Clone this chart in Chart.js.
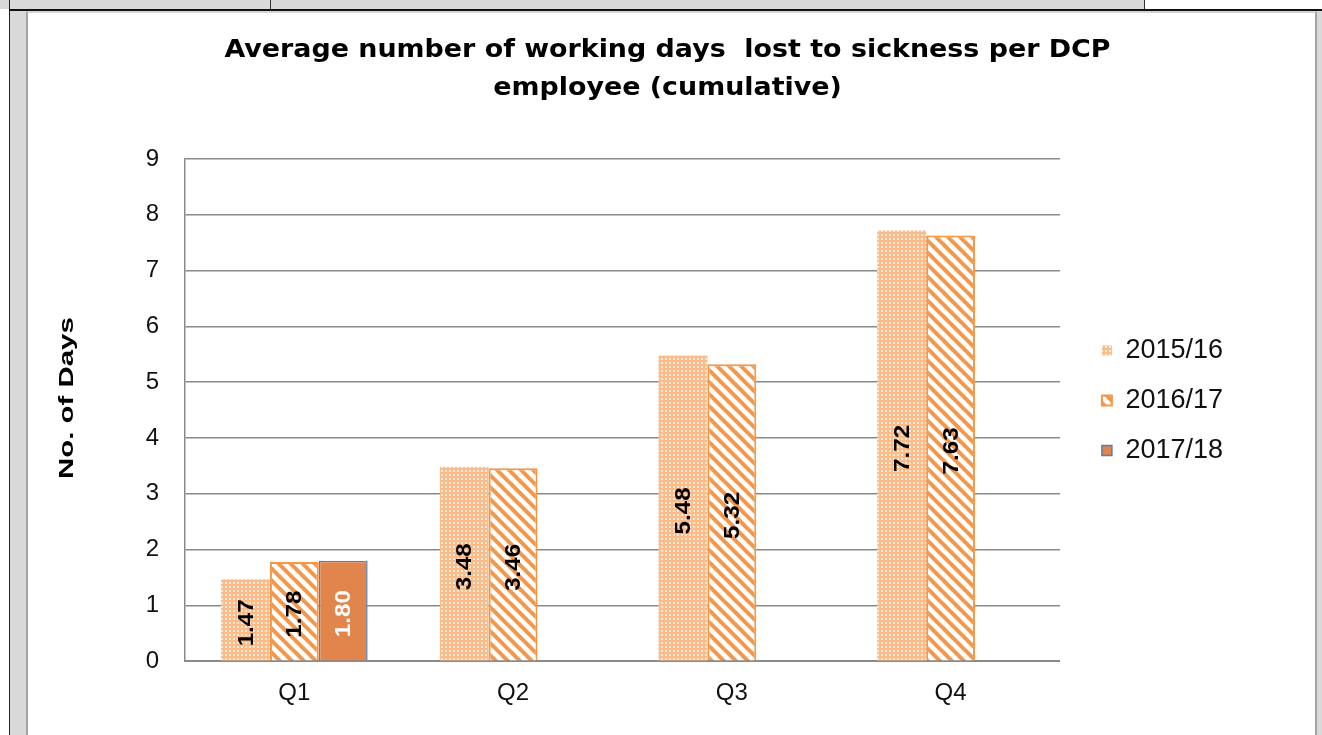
<!DOCTYPE html>
<html>
<head>
<meta charset="utf-8">
<script src="https://cdn.jsdelivr.net/npm/chart.js@4.4.0/dist/chart.umd.min.js"></script>
<style>
  html, body { margin: 0; padding: 0; background: #fff; }
  body { width: 1322px; height: 735px; position: relative; overflow: hidden; }
  .strip { position: absolute; left: 0; top: 0; width: 1144px; height: 9px; background: #d9d9d9; border-right: 1px solid #333; }
  .strip-div { position: absolute; left: 270px; top: 0; width: 1px; height: 9px; background: #333; }
  .rule-top { position: absolute; left: 9px; top: 9px; width: 1313px; height: 2px; background: #111; }
  .rule-left { position: absolute; left: 9px; top: 0; width: 1px; height: 735px; background: #222; }
  .side-left { position: absolute; left: 10px; top: 11px; width: 16px; height: 724px; background: #d9d9d9; }
  .side-right { position: absolute; left: 1317px; top: 11px; width: 5px; height: 724px; background: #d9d9d9; }
  .panel { position: absolute; left: 26px; top: 11px; width: 1287px; height: 724px;
           border-left: 2px solid #a3a3a3; border-right: 2px solid #a3a3a3; border-top: 2px solid #d4d4d4; background: #fff; }
  .chart-box { position: absolute; left: 28px; top: 13px; width: 1287px; height: 722px; }
</style>
</head>
<body>
<div class="strip"></div>
<div class="strip-div"></div>
<div class="rule-left"></div>
<div class="side-left"></div>
<div class="side-right"></div>
<div class="panel"></div>
<div class="rule-top"></div>
<div class="chart-box"><canvas id="sickChart"></canvas></div>

<script>
const quarters = ['Q1', 'Q2', 'Q3', 'Q4'];
const years = ['2015/16', '2016/17', '2017/18'];
const days1516 = [1.47, 3.48, 5.48, 7.72];
const days1617 = [1.78, 3.46, 5.32, 7.63];
const days1718 = [1.80, null, null, null];
const yTicks = [0, 1, 2, 3, 4, 5, 6, 7, 8, 9];

const titleLines = ['Average number of working days  lost to sickness per DCP', 'employee (cumulative)'];
const yTitle = 'No. of Days';

const ORANGE = '#f79646';

// light orange with a grid of pale dots
function dotPattern() {
  const c = document.createElement('canvas');
  c.width = 4; c.height = 4;
  const g = c.getContext('2d');
  g.fillStyle = '#fabd89';
  g.fillRect(0, 0, 4, 4);
  g.fillStyle = '#fde6d2';
  g.fillRect(1, 1, 2, 2);
  return g.createPattern(c, 'repeat');
}

// white with orange "\" stripes
function stripePattern() {
  const s = 12;
  const c = document.createElement('canvas');
  c.width = s; c.height = s;
  const g = c.getContext('2d');
  g.fillStyle = '#fff';
  g.fillRect(0, 0, s, s);
  g.strokeStyle = ORANGE;
  g.lineWidth = 4;
  for (const k of [-s, 0, s]) {
    g.beginPath();
    g.moveTo(k - 1, -1);
    g.lineTo(k + s + 1, s + 1);
    g.stroke();
  }
  return g.createPattern(c, 'repeat');
}

// two-line heading, a touch wider than the font's natural set
const titlePlugin = {
  id: 'wideTitle',
  afterDraw(chart) {
    const ctx = chart.ctx;
    ctx.save();
    ctx.font = 'bold 24px "DejaVu Sans"';
    ctx.fillStyle = '#000';
    ctx.textAlign = 'center';
    ctx.textBaseline = 'alphabetic';
    const cx = chart.width / 2 - 4;
    titleLines.forEach((line, i) => {
      ctx.save();
      ctx.translate(cx, 44 + i * 38);
      ctx.scale(1.12, 1);
      ctx.fillText(line, 0, 0);
      ctx.restore();
    });
    ctx.restore();
  }
};

// rotated y axis title
const yTitlePlugin = {
  id: 'yTitle',
  afterDraw(chart) {
    const { ctx, chartArea } = chart;
    ctx.save();
    ctx.translate(chartArea.left - 118, (chartArea.top + chartArea.bottom) / 2 - 12);
    ctx.rotate(-Math.PI / 2);
    ctx.scale(1.4, 1);
    ctx.font = 'bold 21px "Liberation Sans"';
    ctx.fillStyle = '#000';
    ctx.textAlign = 'center';
    ctx.textBaseline = 'middle';
    ctx.fillText(yTitle, 0, 0);
    ctx.restore();
  }
};

// values written upright inside each bar
const barLabels = {
  id: 'barLabels',
  afterDatasetsDraw(chart) {
    const ctx = chart.ctx;
    chart.data.datasets.forEach((ds, i) => {
      const meta = chart.getDatasetMeta(i);
      meta.data.forEach((bar, j) => {
        const v = ds.data[j];
        if (v == null) return;
        ctx.save();
        ctx.translate(bar.x, (bar.y + bar.base) / 2 + 3);
        ctx.rotate(-Math.PI / 2);
        ctx.scale(1.1, 1);
        ctx.font = 'bold 22px "Liberation Sans"';
        ctx.fillStyle = i === 2 ? '#fff' : '#000';
        ctx.textAlign = 'center';
        ctx.textBaseline = 'middle';
        ctx.fillText(v.toFixed(2), 0, 1);
        ctx.restore();
      });
    });
  }
};

// push the legend a little away from the plot and lift it
const legendNudge = {
  id: 'legendNudge',
  afterLayout(chart) {
    const lg = chart.legend;
    const dx = chart.chartArea.right + 19 - lg.left;
    lg.left += dx; lg.right += dx;
    lg.top -= 42; lg.bottom -= 42;
  }
};

const tickFont = { family: '"Liberation Sans"', size: 24 };

new Chart(document.getElementById('sickChart'), {
  type: 'bar',
  data: {
    labels: quarters,
    datasets: [
      { label: years[0], data: days1516, backgroundColor: dotPattern(), borderWidth: 0 },
      { label: years[1], data: days1617, backgroundColor: stripePattern(), borderColor: ORANGE, borderWidth: 2 },
      { label: years[2], data: days1718, backgroundColor: '#e2854d', borderColor: '#4f81bd', borderWidth: 1.5 }
    ]
  },
  plugins: [titlePlugin, yTitlePlugin, barLabels, legendNudge],
  options: {
    responsive: true,
    maintainAspectRatio: false,
    animation: false,
    datasets: { bar: { categoryPercentage: 0.67, barPercentage: 1.0 } },
    layout: { padding: { left: 117, right: 101, top: 146, bottom: 9 } },
    plugins: {
      title: { display: false },
      tooltip: { enabled: false },
      legend: {
        position: 'right',
        labels: { font: { family: '"Liberation Sans"', size: 27 }, color: '#111', boxWidth: 10, boxHeight: 10, padding: 23 }
      }
    },
    scales: {
      x: {
        grid: { display: false, drawTicks: false },
        border: { color: '#8a8a8a', width: 2 },
        ticks: { font: tickFont, color: '#111', padding: 18 }
      },
      y: {
        min: 0,
        max: 9,
        afterFit(scale) { scale.width = 40; },
        afterBuildTicks(scale) { scale.ticks = yTicks.map(v => ({ value: v })); },
        grid: { color: '#8a8a8a', lineWidth: 1.5, drawTicks: false },
        border: { color: '#8a8a8a', width: 1.5 },
        ticks: { font: tickFont, color: '#111', padding: 26 }
      }
    }
  }
});
</script>
</body>
</html>
